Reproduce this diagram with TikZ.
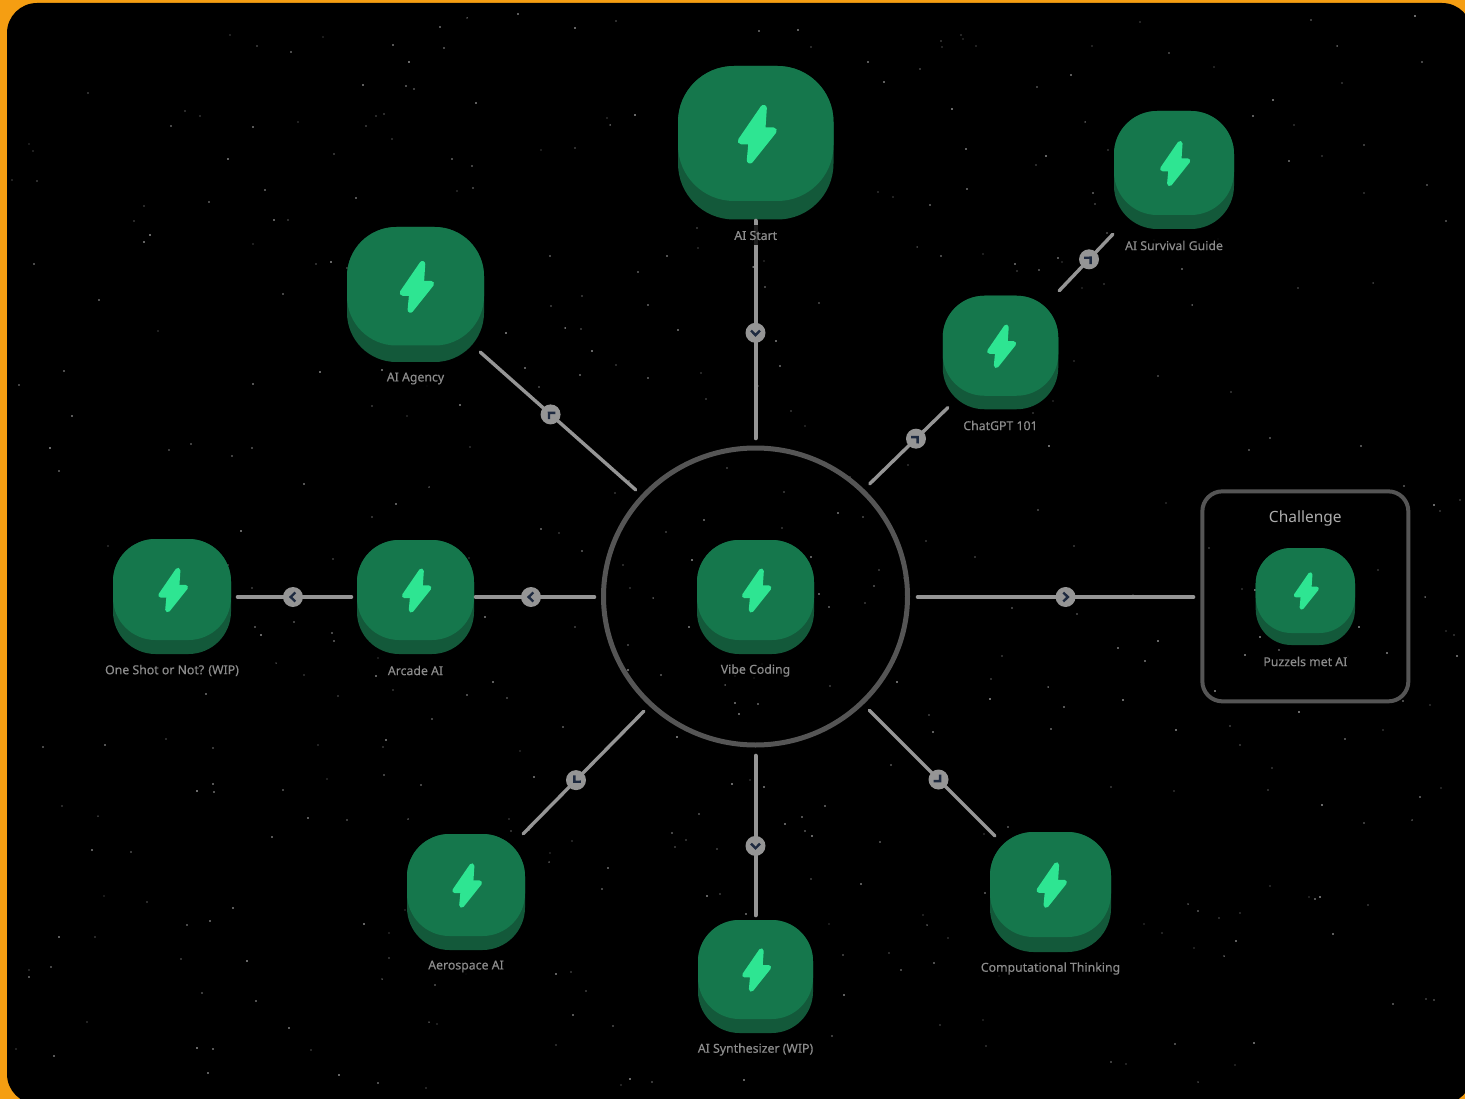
\documentclass[tikz,border=0pt]{standalone}
\usepackage{fontspec}
\usetikzlibrary{shapes.geometric}
\setmainfont{Noto Sans}[FakeBold=0.35]
\newfontfamily\titlefont{Noto Sans}
\definecolor{frameor}{HTML}{F59E12}
\definecolor{face}{HTML}{15774C}
\definecolor{sidec}{HTML}{13593A}
\definecolor{boltc}{HTML}{2EE592}
\definecolor{linkc}{HTML}{959595}
\definecolor{ringc}{HTML}{555555}
\definecolor{chevc}{HTML}{1E2A40}
\definecolor{labelc}{HTML}{8C8C8C}
\tikzset{
  link/.style={draw=linkc,line width=3.4pt,line cap=round,shorten >=1.7pt,shorten <=1.7pt},
  linkstraight/.style={link,line width=4pt},
  ring/.style={draw=ringc,line width=5pt},
  tileside/.style={fill=sidec,inner sep=0pt,outer sep=0pt},
  tileface/.style={fill=face},
  boltshape/.style={fill=boltc,draw=boltc,line join=round},
  applabel/.style={font=\fontsize{12.3}{14}\selectfont,text=labelc,fill=black,fill opacity=.8,text opacity=1,inner xsep=2pt,inner ysep=0pt,minimum height=20pt},
  badge/.style={circle,fill=linkc,minimum size=20pt,inner sep=0pt},
  chev/.style={draw=chevc,line width=2.4pt},
}
\newcommand\chevron[2]{%
  \draw[chev] ([shift={(#2+117:5.05)}]#1.center) -- ([shift={(#2:2.3)}]#1.center) -- ([shift={(#2-117:5.05)}]#1.center);
}
\newcommand\apptile[8]{%
  \pgfmathsetmacro\rr{#4*.36}%
  \pgfmathsetmacro\ss{#4/155}%
  \pgfmathsetmacro\lw{6.5*\ss}%
  \node[tileside,minimum width=#4pt,minimum height=#5pt,rounded corners=\rr pt] (#1) at (#2,#3) {};
  \fill[tileface,rounded corners=\rr pt] (#2-#4/2,#3-#5/2) rectangle (#2+#4/2,#3+#5/2-#6);
  \path[boltshape,line width=\lw pt,shift={(#2+1.3*\ss,#3-#6/2+0.7*\ss)},scale=\ss]
    (6.5,-26) -- (5,-3.5) -- (16.5,-3.5) -- (-7,26) -- (-5.2,6.8) -- (-16,6.8) -- cycle;
  \node[applabel] (#1-label) at (#2,#7) {#8};
}
\begin{document}
\begin{tikzpicture}[x=1pt,y=-1pt]
\useasboundingbox (0,0) rectangle (1465,1099);
\fill[frameor] (0,0) rectangle (1465,1099);
\begin{scope}
\clip (0,0) rectangle (1465,1099);
\fill[black,rounded corners=30pt] (7,3) rectangle (1472,1104);
\end{scope}
% stars
\pgfmathsetseed{4242}
\foreach \i in {1,...,480}{
  \pgfmathsetmacro\sx{random(12,1460)}
  \pgfmathsetmacro\sy{random(10,1095)}
  \pgfmathsetmacro\sg{random(45,85)}
  \pgfmathsetmacro\sr{0.6+0.35*rnd}
  \fill[white!\sg!black] (\sx,\sy) circle[radius=\sr pt];
}
% hub and challenge frame
\node[ellipse,ring,minimum width=304pt,minimum height=297pt,inner sep=0pt,outer sep=0pt] (hub) at (755.5,596.5) {};
\node[ring,line width=4pt,rounded corners=20pt,minimum width=206pt,minimum height=210pt,inner sep=0pt,outer sep=0pt] (challenge) at (1305.35,596.35) {};
\node[font=\titlefont\fontsize{15.5}{18}\selectfont,text=white!68!black] (challengetitle) at (1305.3,518) {Challenge};
% tiles
\apptile{aistart}{755.75}{142.75}{155.5}{153.5}{18.5}{235.5}{AI Start}
\apptile{survival}{1174}{170}{120}{118}{14}{245.5}{AI Survival Guide}
\apptile{agency}{415.5}{294.5}{137}{135}{16.5}{378.5}{AI Agency}
\apptile{chatgpt}{1000.5}{352.5}{115.5}{113.5}{13.5}{425.5}{ChatGPT 101}
\apptile{vibe}{755.5}{597}{117}{114}{14}{670.5}{Vibe Coding}
\apptile{arcade}{415.5}{597}{117}{114}{14}{670.5}{Arcade AI}
\apptile{oneshot}{172}{596.5}{118}{115}{14}{670.5}{One Shot or Not? (WIP)}
\apptile{puzzels}{1305.35}{596.5}{99.3}{97}{12}{661.5}{Puzzels met AI}
\apptile{aerospace}{466}{892}{118}{116}{14}{966.5}{Aerospace AI}
\apptile{synth}{755.5}{976.5}{115}{113}{14}{1049.5}{AI Synthesizer (WIP)}
\apptile{computational}{1050.5}{892}{121}{120}{15}{968.5}{Computational Thinking}
% connectors
\draw[linkstraight] ([shift={(0,-156.5)}]hub.center) -- node[badge,pos=.485](b1){} ([shift={(-0.25,76.25)}]aistart.center);
\chevron{b1}{90}
\draw[link] ([shift={(57.5,-60.5)}]chatgpt.center) -- node[badge,pos=.554](b2){} ([shift={(-60,63)}]survival.center);
\chevron{b2}{-45}
\draw[link] ([shift={(113,-111.5)}]hub.center) -- node[badge,pos=.59](b3){} ([shift={(-51.5,54)}]chatgpt.center);
\chevron{b3}{-45}
\draw[link] ([shift={(-118.5,-105.5)}]hub.center) -- node[badge,pos=.547](b4){} ([shift={(63.5,56.5)}]agency.center);
\chevron{b4}{-135}
\draw[linkstraight] ([shift={(160.5,0.5)}]hub.center) -- node[badge,pos=.536](b5){} ([shift={(-110.35,0.65)}]challenge.center);
\chevron{b5}{0}
\draw[linkstraight] ([shift={(-159.5,0.5)}]hub.center) -- node[badge,pos=.533](b6){} ([shift={(58.5,0)}]arcade.center);
\chevron{b6}{180}
\draw[linkstraight] ([shift={(-62.5,0)}]arcade.center) -- node[badge,pos=.513](b7){} ([shift={(64,0.5)}]oneshot.center);
\chevron{b7}{180}
\draw[link] ([shift={(-110.5,113.5)}]hub.center) -- node[badge,pos=.561](b8){} ([shift={(56,-57)}]aerospace.center);
\chevron{b8}{135}
\draw[linkstraight] ([shift={(0,157.5)}]hub.center) -- node[badge,pos=.564](b9){} ([shift={(0,-59.5)}]synth.center);
\chevron{b9}{90}
\draw[link] ([shift={(112.5,112.5)}]hub.center) -- node[badge,pos=.551](b10){} ([shift={(-54.5,-55)}]computational.center);
\chevron{b10}{45}
% AI Start's label lies over its connector
\node[applabel] at (aistart-label) {AI Start};
\end{tikzpicture}
\end{document}
